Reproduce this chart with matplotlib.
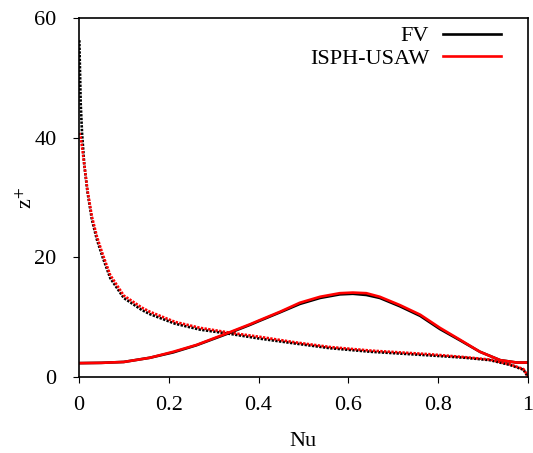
import matplotlib
matplotlib.use("Agg")
import matplotlib.pyplot as plt
from matplotlib import font_manager as fm

for f in fm.findSystemFonts():
    if 'LiberationSerif' in f.replace(' ', ''):
        try:
            fm.fontManager.addfont(f)
        except Exception:
            pass
names = {f.name for f in fm.fontManager.ttflist}
serif = 'Liberation Serif' if 'Liberation Serif' in names else 'STIXGeneral'
plt.rcParams['font.family'] = [serif, 'STIXGeneral', 'DejaVu Serif']
plt.rcParams['mathtext.fontset'] = 'stix'

# Solid profiles (Nu)
fv_nu_x = [0, 0.05, 0.1, 0.158, 0.21, 0.262, 0.33, 0.381, 0.403, 0.448, 0.492, 0.537, 0.581, 0.61, 0.64, 0.67, 0.715, 0.76, 0.804, 0.849, 0.893, 0.938, 0.975, 1.0]
fv_nu_z = [2.3, 2.35, 2.5, 3.2, 4.1, 5.3, 7.2, 8.7, 9.4, 10.8, 12.2, 13.2, 13.8, 13.9, 13.7, 13.2, 11.8, 10.2, 8.0, 6.1, 4.2, 2.8, 2.4, 2.4]
sph_nu_x = [0, 0.05, 0.1, 0.158, 0.21, 0.262, 0.33, 0.381, 0.403, 0.448, 0.492, 0.537, 0.581, 0.61, 0.64, 0.67, 0.715, 0.76, 0.804, 0.849, 0.893, 0.938, 0.975, 1.0]
sph_nu_z = [2.3, 2.35, 2.5, 3.2, 4.2, 5.35, 7.3, 8.8, 9.5, 10.9, 12.4, 13.4, 14.0, 14.1, 14.0, 13.4, 12.0, 10.4, 8.2, 6.2, 4.2, 2.8, 2.4, 2.4]

# Dotted profiles
fv_dot_x = [0.001, 0.004, 0.007, 0.012, 0.019, 0.029, 0.04, 0.053, 0.07, 0.1, 0.14, 0.158, 0.214, 0.27, 0.336, 0.403, 0.48, 0.559, 0.65, 0.78, 0.86, 0.915, 0.96, 0.99, 1.0]
fv_dot_z = [56.3, 45.8, 40.8, 35.5, 31.0, 26.3, 23.0, 20.0, 16.5, 13.2, 11.2, 10.5, 8.9, 7.9, 7.2, 6.4, 5.6, 4.8, 4.2, 3.6, 3.2, 2.8, 2.0, 1.2, 0.0]
sph_dot_x = [0.001, 0.004, 0.007, 0.012, 0.019, 0.029, 0.04, 0.053, 0.07, 0.1, 0.14, 0.158, 0.214, 0.27, 0.336, 0.403, 0.48, 0.559, 0.65, 0.78, 0.86, 0.915, 0.96, 0.99, 1.0]
sph_dot_z = [40.8, 40.0, 38.5, 35.5, 31.3, 26.8, 23.5, 20.5, 17.0, 13.6, 11.6, 10.9, 9.2, 8.2, 7.4, 6.7, 5.8, 5.0, 4.4, 3.8, 3.3, 2.9, 2.1, 1.3, 0.1]

fig = plt.figure(figsize=(5.33, 4.53), dpi=100)
ax = fig.add_axes([0.148, 0.168, 0.8426, 0.792])

dash = (0.9, 0.5)
ax.plot(fv_dot_x, fv_dot_z, color='black', lw=1.9, dashes=dash)
ax.plot(sph_dot_x, sph_dot_z, color='red', lw=1.9, dashes=dash)
ax.plot(fv_nu_x, fv_nu_z, color='black', lw=1.9, label='FV')
ax.plot(sph_nu_x, sph_nu_z, color='red', lw=1.9, label='ISPH-USAW')

ax.set_xlim(0, 1)
ax.set_ylim(0, 60)
ax.set_xticks([0, 0.2, 0.4, 0.6, 0.8, 1])
ax.set_xticklabels(['0', '0.2', '0.4', '0.6', '0.8', '1'])
ax.set_yticks([0, 20, 40, 60])
ax.tick_params(direction='out', length=4, labelsize=16)
ax.tick_params(axis='x', pad=10)
ax.tick_params(axis='y', pad=12)
ax.set_xlabel('Nu', fontsize=16, labelpad=12)
ax.set_ylabel('z$^{+}$', fontsize=16)
ax.yaxis.set_label_coords(-0.093, 0.5)
for s in ax.spines.values():
    s.set_linewidth(1.2)

ax.legend(loc='upper right', bbox_to_anchor=(0.9755, 1.022), frameon=False,
          markerfirst=False, fontsize=16, handlelength=2.65,
          handletextpad=0.6, labelspacing=0.1, borderaxespad=0.3)

fig.savefig('out.png', dpi=100)
